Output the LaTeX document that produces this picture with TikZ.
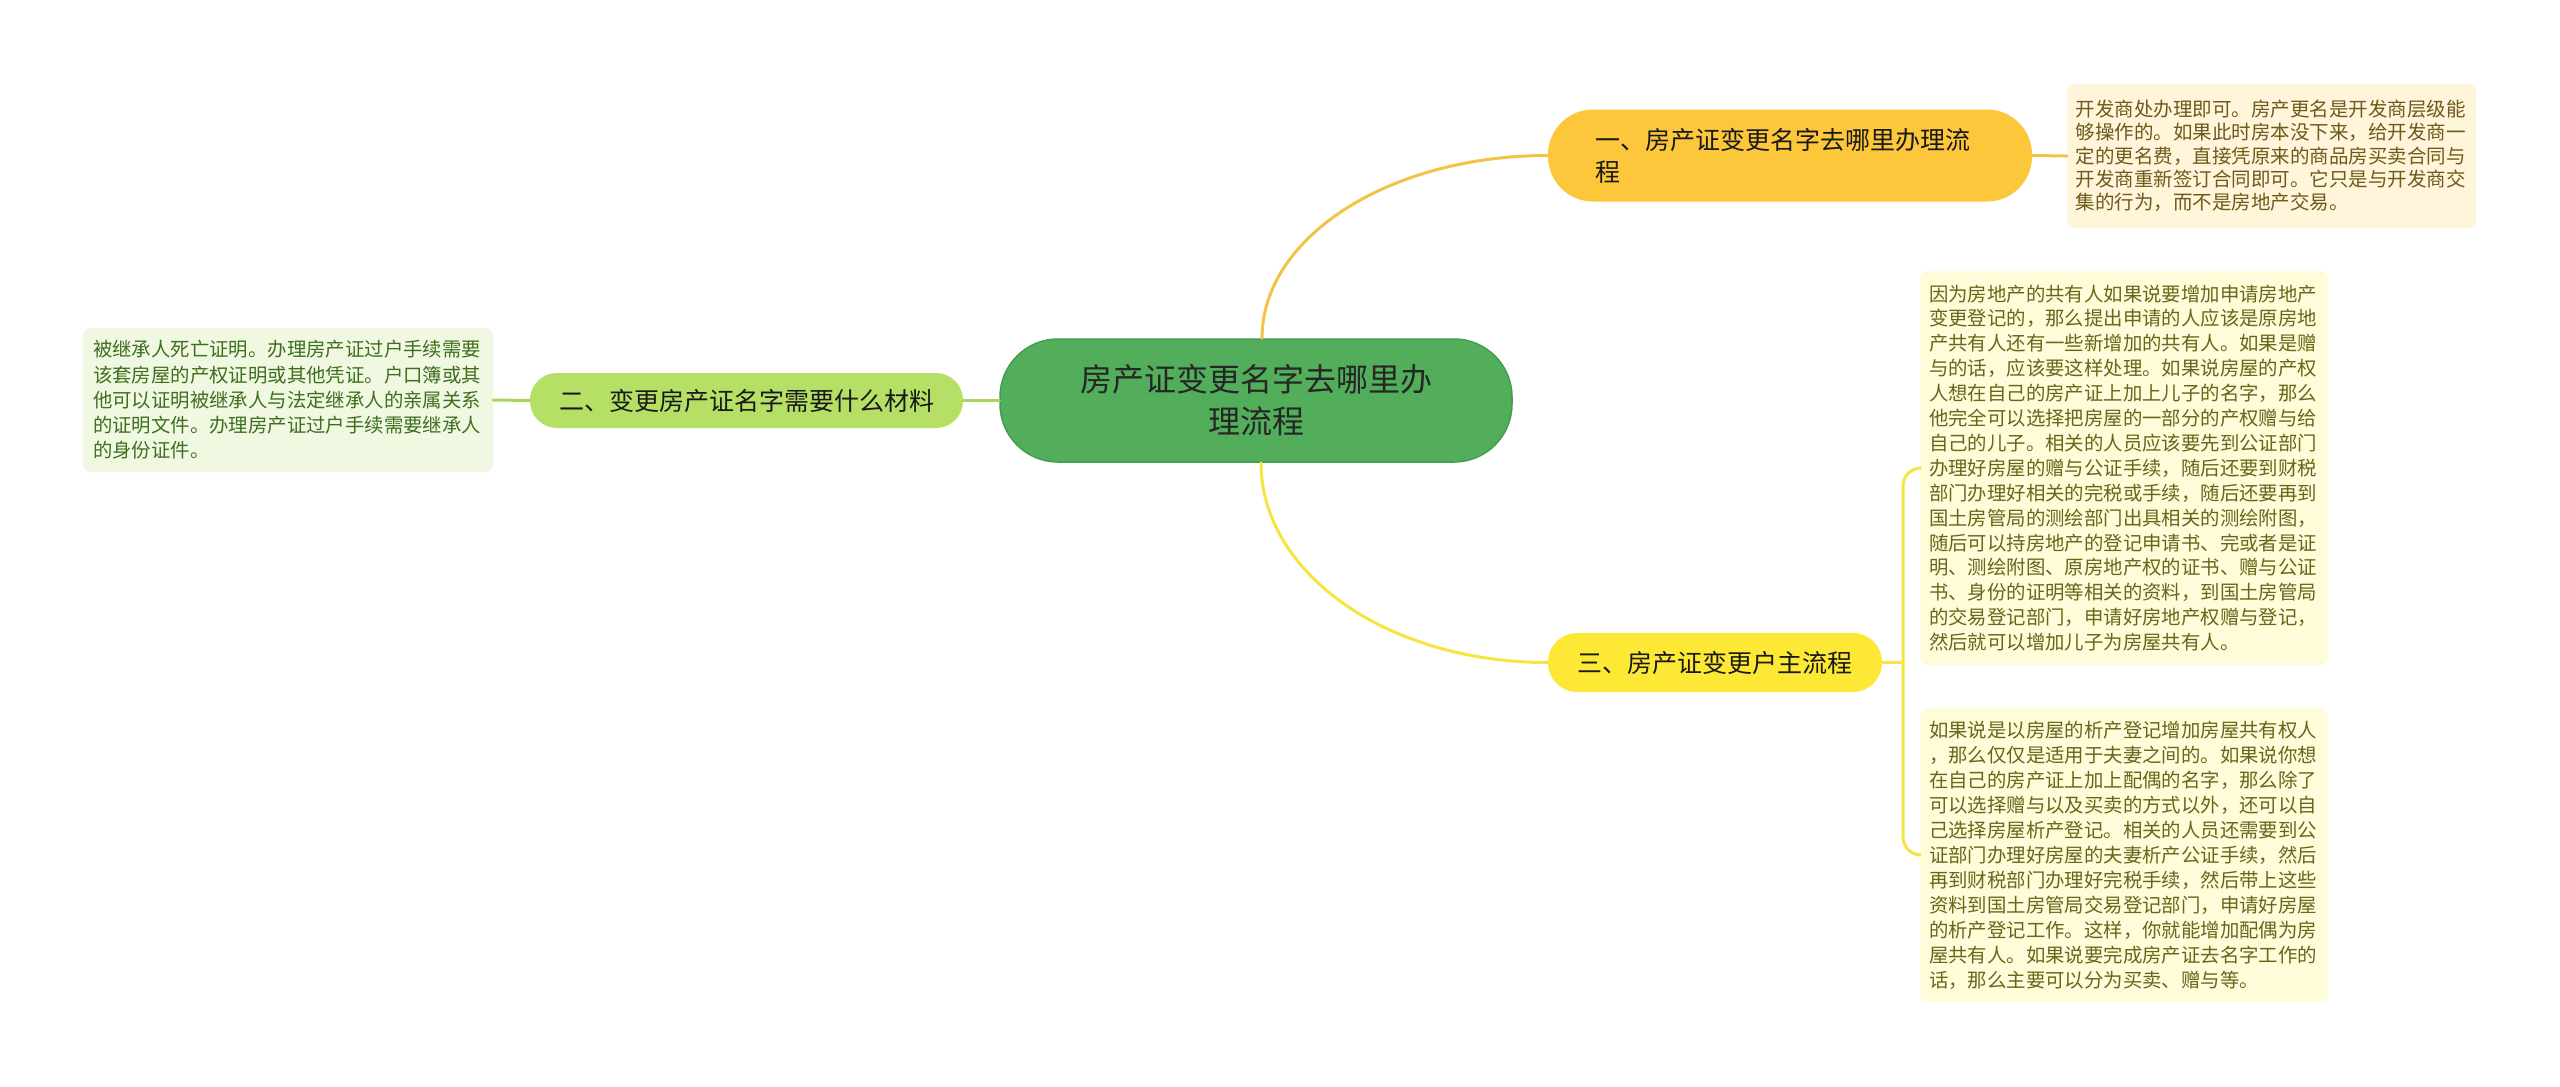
\documentclass[tikz,border=0pt]{standalone}
\usepackage{fontspec}
\setmainfont{Noto Sans CJK SC}
\usetikzlibrary{calc}
\definecolor{cgreen}{HTML}{52AE5A}
\definecolor{cgreenD}{HTML}{449E4C}
\definecolor{cgold}{HTML}{FDC73C}
\definecolor{cgoldL}{HTML}{F2C444}
\definecolor{clime}{HTML}{B6E065}
\definecolor{climeL}{HTML}{A9D55C}
\definecolor{cyel}{HTML}{FDE935}
\definecolor{cyelL}{HTML}{F6E53E}
\definecolor{leafA}{HTML}{FEF5DA}
\definecolor{leafB}{HTML}{FFFCD9}
\definecolor{leafC}{HTML}{F0F8E2}
\definecolor{txtA}{HTML}{6E5A1A}
\definecolor{txtB}{HTML}{68661A}
\definecolor{txtC}{HTML}{3F6E1F}
\tikzset{
  rootbox/.style={fill=cgreen, draw=cgreenD, line width=1.5, inner sep=0,
    minimum width=512, minimum height=123, rounded corners=58,
    align=center, text=black!85, font=\fontsize{32}{42}\selectfont},
  branchbox/.style={inner sep=0, text=black!90, font=\fontsize{25}{32}\selectfont},
  leafbox/.style={inner sep=0, rounded corners=8, align=left,
    font=\fontsize{19.4}{25}\selectfont},
  link/.style={line width=3, line cap=round}
}
\begin{document}
\begin{tikzpicture}[x=1pt, y=-1pt]
\useasboundingbox[fill=white] (0,0) rectangle (2560,1087);

% root
\node[rootbox] (root) at (1256,400.5) {房产证变更名字去哪里办\\理流程};

% branches
\node[branchbox, fill=cgold, minimum width=484, minimum height=92, rounded corners=45,
  text width=390, align=left] (b1) at (1790,155.5)
  {一、房产证变更名字去哪里办理流\\程};
\node[branchbox, fill=clime, minimum width=433, minimum height=55, rounded corners=27,
  align=center] (b2) at (746.5,400.5) {二、变更房产证名字需要什么材料};
\node[branchbox, fill=cyel, minimum width=334, minimum height=59, rounded corners=29,
  align=center] (b3) at (1715,662.5) {三、房产证变更户主流程};

% leaves
\node[leafbox, fill=leafA, text=txtA, minimum width=409, minimum height=144,
  text width=392, font=\fontsize{19.5}{23.3}\selectfont] (l1) at (2271.5,156)
  {开发商处办理即可。房产更名是开发商层级能\\
   够操作的。如果此时房本没下来，给开发商一\\
   定的更名费，直接凭原来的商品房买卖合同与\\
   开发商重新签订合同即可。它只是与开发商交\\
   集的行为，而不是房地产交易。};

\node[leafbox, fill=leafC, text=txtC, minimum width=410, minimum height=144,
  text width=390, font=\fontsize{19.4}{25.3}\selectfont] (l2) at (288,400)
  {被继承人死亡证明。办理房产证过户手续需要\\
   该套房屋的产权证明或其他凭证。户口簿或其\\
   他可以证明被继承人与法定继承人的亲属关系\\
   的证明文件。办理房产证过户手续需要继承人\\
   的身份证件。};

\node[leafbox, fill=leafB, text=txtB, minimum width=408, minimum height=394,
  text width=390, font=\fontsize{19.4}{24.9}\selectfont] (l3a) at (2124,468)
  {因为房地产的共有人如果说要增加申请房地产\\
   变更登记的，那么提出申请的人应该是原房地\\
   产共有人还有一些新增加的共有人。如果是赠\\
   与的话，应该要这样处理。如果说房屋的产权\\
   人想在自己的房产证上加上儿子的名字，那么\\
   他完全可以选择把房屋的一部分的产权赠与给\\
   自己的儿子。相关的人员应该要先到公证部门\\
   办理好房屋的赠与公证手续，随后还要到财税\\
   部门办理好相关的完税或手续，随后还要再到\\
   国土房管局的测绘部门出具相关的测绘附图，\\
   随后可以持房地产的登记申请书、完或者是证\\
   明、测绘附图、原房地产权的证书、赠与公证\\
   书、身份的证明等相关的资料，到国土房管局\\
   的交易登记部门，申请好房地产权赠与登记，\\
   然后就可以增加儿子为房屋共有人。};

\node[leafbox, fill=leafB, text=txtB, minimum width=408, minimum height=294,
  text width=390, font=\fontsize{19.4}{25}\selectfont] (l3b) at (2124,855)
  {如果说是以房屋的析产登记增加房屋共有权人\\
   ，那么仅仅是适用于夫妻之间的。如果说你想\\
   在自己的房产证上加上配偶的名字，那么除了\\
   可以选择赠与以及买卖的方式以外，还可以自\\
   己选择房屋析产登记。相关的人员还需要到公\\
   证部门办理好房屋的夫妻析产公证手续，然后\\
   再到财税部门办理好完税手续，然后带上这些\\
   资料到国土房管局交易登记部门，申请好房屋\\
   的析产登记工作。这样，你就能增加配偶为房\\
   屋共有人。如果说要完成房产证去名字工作的\\
   话，那么主要可以分为买卖、赠与等。};

% connectors
\begin{scope}[on background layer/.style={}]
\draw[link, draw=cgoldL] ([xshift=6]root.north) .. controls +(0,-101) and +(-159,0) .. (b1.west);
\draw[link, draw=cyelL] ([xshift=5]root.south) .. controls +(0,110) and +(-161,0) .. (b3.west);
\draw[link, draw=climeL] (root.west) -- (b2.east);
\draw[link, draw=climeL] (b2.west) -- (l2.east);
\draw[link, draw=cgoldL] (b1.east) -- (l1.west);
\coordinate (b3j) at (1903,662.5);
\draw[link, draw=cyelL] (b3.east) -- (b3j);
\draw[link, draw=cyelL, rounded corners=18] (b3j) |- (l3a.west);
\draw[link, draw=cyelL, rounded corners=18] (b3j) |- (l3b.west);
\end{scope}
\end{tikzpicture}
\end{document}
